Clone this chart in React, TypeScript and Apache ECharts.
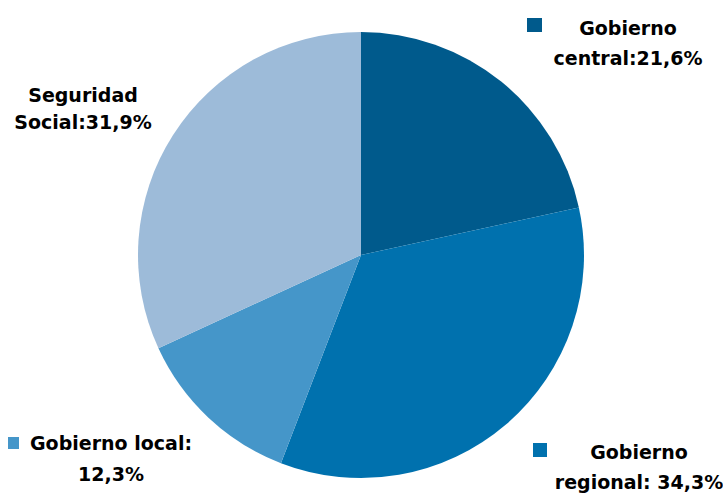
import React, { useEffect, useRef } from "react";
import * as echarts from "echarts";

const categories = ["Gobierno central", "Gobierno regional", "Gobierno local", "Seguridad Social"];
const values = [21.6, 34.3, 12.3, 31.9];
const colors = ["#005a8c", "#0071ae", "#4596c9", "#9dbbd9"];
// label text: [first line, second line prefix]
const labelLines = [
  ["Gobierno", "central:"],
  ["Gobierno", "regional: "],
  ["Gobierno local:", ""],
  ["Seguridad", "Social:"],
];

const labelPos = [
  { x: 628, y: 43, lh: 30 },
  { x: 639, y: 467, lh: 30 },
  { x: 111, y: 458, lh: 31 },
  { x: 83, y: 108, lh: 27 },
];
const markers = [
  { i: 0, x: 527, y: 18, w: 15, h: 14 },
  { i: 1, x: 533, y: 443, w: 14, h: 14 },
  { i: 2, x: 8, y: 437, w: 11, h: 12 },
];

const fmt = (v: number) => v.toFixed(1).replace(".", ",") + "%";

export default function App() {
  const ref = useRef<HTMLDivElement>(null);
  useEffect(() => {
    const chart = echarts.init(ref.current!, null, { renderer: "svg" });
    const texts = values.map((v, i) => ({
      type: "text",
      x: labelPos[i].x,
      y: labelPos[i].y,
      style: {
        text: labelLines[i][0] + "\n" + labelLines[i][1] + fmt(v),
        fill: "#000000",
        font: "bold 19px 'DejaVu Sans'",
        lineHeight: labelPos[i].lh,
        textAlign: "center",
        textVerticalAlign: "middle",
      },
      z: 10,
    }));
    chart.setOption({
      animation: false,
      backgroundColor: "#ffffff",
      graphic: [
        ...markers.map((m) => ({
          type: "rect",
          shape: { x: m.x, y: m.y, width: m.w, height: m.h },
          style: { fill: colors[m.i] },
        })),
        ...texts,
      ],
      series: [
        {
          type: "pie",
          center: [361, 255],
          radius: 223,
          startAngle: 90,
          clockwise: true,
          label: { show: false },
          labelLine: { show: false },
          itemStyle: { borderWidth: 0 },
          emphasis: { disabled: true },
          data: categories.map((c, i) => ({
            name: c,
            value: values[i],
            itemStyle: { color: colors[i] },
          })),
        },
      ],
    });
    return () => chart.dispose();
  }, []);
  return (
    <div
      ref={ref}
      style={{ position: "fixed", left: 0, top: 0, width: 723, height: 494 }}
    />
  );
}
